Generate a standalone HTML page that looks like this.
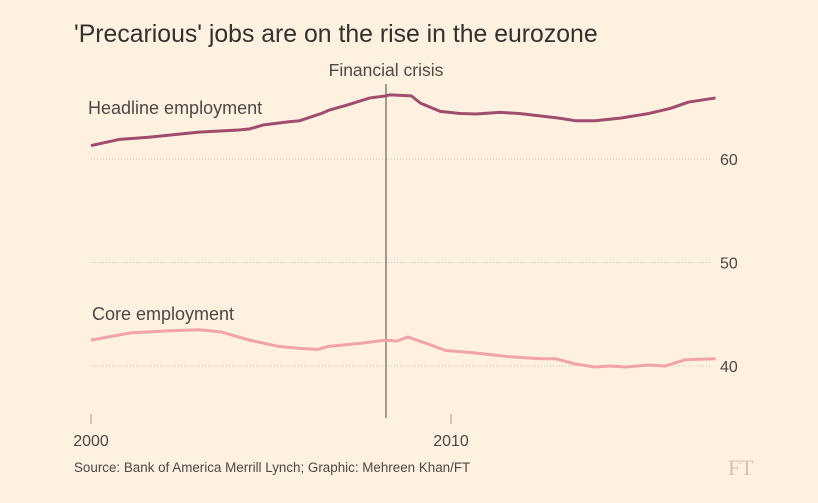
<!DOCTYPE html>
<html><head><meta charset="utf-8"><style>
body{margin:0;background:#fff1e0;}
svg{display:block;font-family:"Liberation Sans",sans-serif;}
</style></head><body>
<svg id="c" width="818" height="503">
<rect width="818" height="503" fill="#fff1e0"/>
<text x="74" y="42" font-size="24.8" fill="#33302e">'Precarious' jobs are on the rise in the eurozone</text>
<g id="grid"></g>
<g id="xax"></g>
<line x1="386" y1="84" x2="386" y2="418" stroke="#66605c" stroke-width="1.2"/>
<text x="386" y="76" font-size="17.5" fill="#4d4845" text-anchor="middle">Financial crisis</text>
<g id="lines"></g>
<text x="88" y="114" font-size="18" fill="#4d4845">Headline employment</text>
<text x="92" y="320" font-size="18" fill="#4d4845">Core employment</text>
<text x="74" y="472" font-size="13.4" fill="#4d4845">Source: Bank of America Merrill Lynch; Graphic: Mehreen Khan/FT</text>
<text x="728" y="475" font-size="22" fill="#cfc5b8" font-family="Liberation Serif,serif">FT</text>
</svg>
<script>
const yTicks=[40,50,60];
const xTicks=[2000,2010];
const headlineYears=[2000,2000.8,2001.6,2003,2004.1,2004.4,2004.8,2005.5,2005.8,2006.4,2006.6,2007.1,2007.75,2008.2,2008.3,2008.9,2009.15,2009.7,2010.25,2010.7,2011.35,2011.9,2013,2013.45,2014,2014.7,2015.5,2016.1,2016.6,2017.35];
const headlineValues=[61.3,61.9,62.1,62.6,62.8,62.9,63.3,63.6,63.7,64.4,64.7,65.2,65.9,66.1,66.2,66.1,65.4,64.6,64.4,64.35,64.5,64.4,63.95,63.7,63.7,63.95,64.4,64.9,65.5,65.9];
const coreYears=[2000,2001.1,2002.2,2003,2003.6,2004.4,2005.2,2005.8,2006.3,2006.6,2007.5,2008.2,2008.5,2008.8,2009.3,2009.85,2010.55,2011.1,2011.6,2012.5,2012.9,2013.45,2014,2014.4,2014.85,2015.5,2015.95,2016.5,2017.35];
const coreValues=[42.5,43.2,43.4,43.5,43.3,42.5,41.9,41.7,41.6,41.9,42.2,42.5,42.4,42.8,42.2,41.5,41.3,41.1,40.9,40.7,40.7,40.2,39.9,40.0,39.9,40.1,40.0,40.6,40.7];
const X=y=>91+(y-2000)*36;
const Y=v=>366-(v-40)*10.35;
const NS="http://www.w3.org/2000/svg";
const grid=document.getElementById('grid');
yTicks.forEach(t=>{
 const l=document.createElementNS(NS,'line');
 l.setAttribute('x1',91);l.setAttribute('x2',712);l.setAttribute('y1',Y(t));l.setAttribute('y2',Y(t));
 l.setAttribute('stroke','#c9bfb2');l.setAttribute('stroke-dasharray','1 2');
 
 
 grid.appendChild(l);
 const tx=document.createElementNS(NS,'text');
 tx.setAttribute('x',720);tx.setAttribute('y',Y(t)+6);tx.setAttribute('font-size','16');tx.setAttribute('fill','#4d4845');
 tx.textContent=t;
 
 
 grid.appendChild(tx);
});
const xax=document.getElementById('xax');
xTicks.forEach(t=>{
 const l=document.createElementNS(NS,'line');
 l.setAttribute('x1',X(t));l.setAttribute('x2',X(t));l.setAttribute('y1',414);l.setAttribute('y2',424);
 l.setAttribute('stroke','#999');
 
 
 xax.appendChild(l);
 const tx=document.createElementNS(NS,'text');
 tx.setAttribute('x',X(t));tx.setAttribute('y',446);tx.setAttribute('font-size','16');tx.setAttribute('fill','#4d4845');tx.setAttribute('text-anchor','middle');
 tx.textContent=t;
 
 
 xax.appendChild(tx);
});
const lines=document.getElementById('lines');
function draw(xs,vs,color,name){
 const p=document.createElementNS(NS,'polyline');
 p.setAttribute('points',xs.map((x,i)=>X(x)+','+Y(vs[i])).join(' '));
 p.setAttribute('fill','none');p.setAttribute('stroke',color);p.setAttribute('stroke-width','3');p.setAttribute('stroke-linejoin','round');
 
 
 lines.appendChild(p);
}
draw(headlineYears,headlineValues,'#a04c6e','headline-employment-line');
draw(coreYears,coreValues,'#f0a3aa','core-employment-line');
</script>
</body></html>
